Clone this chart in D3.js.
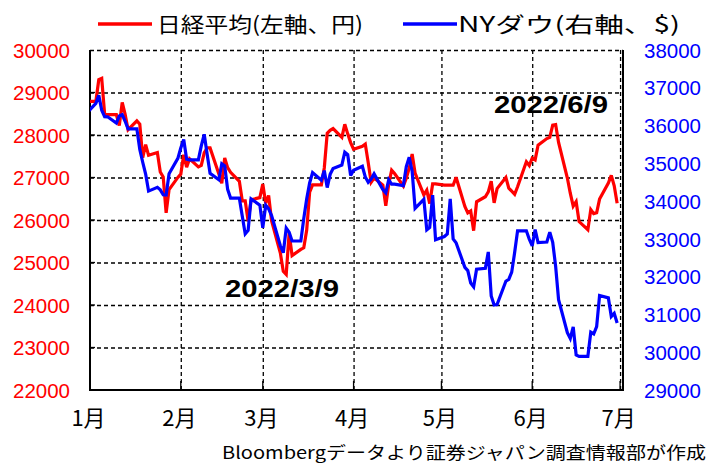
<!DOCTYPE html>
<html><head><meta charset="utf-8">
<script src="https://cdn.jsdelivr.net/npm/d3@7"></script>
<style>body{margin:0;background:#fff}svg{display:block}</style>
</head><body><svg id="c" width="717" height="468"></svg>
<script>
const dates = [
"2021-12-31","2022-01-03","2022-01-04","2022-01-05","2022-01-06","2022-01-07","2022-01-10","2022-01-11","2022-01-12","2022-01-13","2022-01-14",
"2022-01-17","2022-01-18","2022-01-19","2022-01-20","2022-01-21","2022-01-24","2022-01-25","2022-01-26","2022-01-27","2022-01-28","2022-01-31",
"2022-02-01","2022-02-02","2022-02-03","2022-02-04","2022-02-07","2022-02-08","2022-02-09","2022-02-10","2022-02-11","2022-02-14","2022-02-15",
"2022-02-16","2022-02-17","2022-02-18","2022-02-21","2022-02-22","2022-02-23","2022-02-24","2022-02-25","2022-02-28",
"2022-03-01","2022-03-02","2022-03-03","2022-03-04","2022-03-07","2022-03-08","2022-03-09","2022-03-10","2022-03-11","2022-03-14","2022-03-15",
"2022-03-16","2022-03-17","2022-03-18","2022-03-21","2022-03-22","2022-03-23","2022-03-24","2022-03-25","2022-03-28","2022-03-29","2022-03-30","2022-03-31",
"2022-04-01","2022-04-04","2022-04-05","2022-04-06","2022-04-07","2022-04-08","2022-04-11","2022-04-12","2022-04-13","2022-04-14","2022-04-15",
"2022-04-18","2022-04-19","2022-04-20","2022-04-21","2022-04-22","2022-04-25","2022-04-26","2022-04-27","2022-04-28","2022-04-29",
"2022-05-02","2022-05-03","2022-05-04","2022-05-05","2022-05-06","2022-05-09","2022-05-10","2022-05-11","2022-05-12","2022-05-13",
"2022-05-16","2022-05-17","2022-05-18","2022-05-19","2022-05-20","2022-05-23","2022-05-24","2022-05-25","2022-05-26","2022-05-27","2022-05-30","2022-05-31",
"2022-06-01","2022-06-02","2022-06-03","2022-06-06","2022-06-07","2022-06-08","2022-06-09","2022-06-10","2022-06-13","2022-06-14","2022-06-15",
"2022-06-16","2022-06-17","2022-06-20","2022-06-21","2022-06-22","2022-06-23","2022-06-24","2022-06-27","2022-06-28","2022-06-29","2022-06-30"
];
const nikkei = [
28792,28792,29302,29332,28488,28479,28479,28222,28766,28489,28124,
28334,28257,27467,27773,27522,27588,27131,27011,26170,26717,27002,
27078,27534,27241,27440,27249,27285,27580,27696,27696,27080,26865,
27460,27233,27122,26911,26450,26450,25971,26477,26527,
26845,26393,26577,25985,25221,24791,24718,25690,25163,25308,25346,
25762,26653,26827,26827,27224,28040,28110,28150,27944,28252,28027,27821,
27666,27736,27788,27350,26889,26986,26822,26335,26843,27172,27093,
26800,26985,27218,27553,27105,26591,26700,26387,26848,26848,
26819,26819,26819,26819,27004,26319,26167,26214,25749,26428,
26547,26660,26911,26403,26739,27002,26748,26678,26605,26782,27369,27280,
27458,27414,27762,27916,27944,28234,28247,27824,26987,26630,26326,
26431,25963,25771,26246,26150,26171,26492,26871,27049,26805,26393
];
const dow = [
36338,36585,36800,36407,36236,36232,36069,36252,36290,36114,35912,
35912,35368,35029,34715,34265,34365,34298,34168,34161,34725,35132,
35405,35629,35111,35090,35091,35463,35768,35242,34738,34566,34989,
34934,34312,34079,34079,33597,33132,33224,34059,33893,
33295,33891,33795,33615,32817,32633,33286,33174,32944,32945,33544,
34063,34481,34755,34553,34807,34359,34708,34861,34956,35294,35229,34678,
34818,34922,34641,34497,34584,34721,34308,34220,34565,34451,34451,
34412,34911,35161,34793,33811,34049,33240,33302,34161,32977,
33062,33129,34061,32998,32899,32246,32161,31834,31730,32197,
32223,32655,31490,31253,31262,31880,31929,32120,32637,33213,33213,32990,
32813,33248,32900,32916,33180,32911,32273,31393,30517,30365,30669,
29927,29889,29889,30530,30483,30677,31501,31438,30947,31029,30775
];
const leftTicks = [22000,23000,24000,25000,26000,27000,28000,29000,30000];
const rightTicks = [29000,30000,31000,32000,33000,34000,35000,36000,37000,38000];
const monthStarts = ["2022-01-01","2022-02-01","2022-03-01","2022-04-01","2022-05-01","2022-06-01","2022-07-01"];
const monthLabels = ["1月","2月","3月","4月","5月","6月","7月"];
const seriesNames = ["日経平均(左軸、円)","NYダウ(右軸、$)"];
const notes = [{date:"2022-06-09", text:"2022/6/9"},{date:"2022-03-09", text:"2022/3/9"}];
const source = "Bloombergデータより証券ジャパン調査情報部が作成";

const parse = d3.timeParse("%Y-%m-%d");
const svg = d3.select("#c");
const L = 90, R = 623, T = 50, B = 390;
const x = d3.scaleTime().domain([parse("2022-01-01"), parse("2022-07-02")]).range([L, R]);
const yL = d3.scaleLinear().domain([22000, 30000]).range([B, T]);
const yR = d3.scaleLinear().domain([29000, 38000]).range([B, T]);
const RED = "#ff0000", BLUE = "#0000ff";
const numFont = "'Liberation Sans', Arial, sans-serif";
const jpFont = "'Noto Sans CJK JP', sans-serif";

// gridlines
const gy = svg.append("g").attr("transform", `translate(${L},0)`)
  .call(d3.axisLeft(yL).tickValues(leftTicks.slice(1)).tickSize(-(R - L)).tickFormat(""));
const gx = svg.append("g").attr("transform", `translate(0,${B})`)
  .call(d3.axisBottom(x).tickValues(monthStarts.slice(1).map(parse)).tickSize(-(B - T)).tickFormat(""));
[gy, gx].forEach(g => {
  g.select(".domain").remove();
  g.selectAll("line").attr("stroke", "#000").attr("stroke-width", 1.3).attr("stroke-dasharray", "4,3");
});
// inner ticks
svg.append("g").selectAll("line").data(monthStarts.slice(1).map(parse)).join("line")
  .attr("x1", d => x(d)).attr("x2", d => x(d)).attr("y1", B - 9).attr("y2", B)
  .attr("stroke", "#000").attr("stroke-width", 1.3);
svg.append("g").selectAll("line").data(leftTicks.slice(1, -1)).join("line")
  .attr("x1", L).attr("x2", L + 5).attr("y1", d => yL(d)).attr("y2", d => yL(d))
  .attr("stroke", "#000").attr("stroke-width", 1.3);

// frame
svg.append("path").attr("d", `M${L},${T}V${B}H${R}V${T}`).attr("fill", "none")
  .attr("stroke", "#000").attr("stroke-width", 2);

// lines
svg.append("defs").append("clipPath").attr("id", "clip")
  .append("rect").attr("x", L).attr("y", T - 5).attr("width", R - L).attr("height", B - T + 5);
const pd = dates.map(parse);
const lineN = d3.line().x((d, i) => x(pd[i])).y(d => yL(d));
const lineD = d3.line().x((d, i) => x(pd[i])).y(d => yR(d));
const lg = svg.append("g").attr("clip-path", "url(#clip)");
lg.append("path").datum(nikkei).attr("d", lineN).attr("fill", "none").attr("stroke", RED)
  .attr("stroke-width", 3.2).attr("stroke-linejoin", "miter").attr("stroke-miterlimit", 3);
lg.append("path").datum(dow).attr("d", lineD).attr("fill", "none").attr("stroke", BLUE)
  .attr("stroke-width", 3.2).attr("stroke-linejoin", "miter").attr("stroke-miterlimit", 3);

// left axis labels
const al = svg.append("g").attr("transform", `translate(70,0)`)
  .call(d3.axisLeft(yL).tickValues(leftTicks).tickSize(0).tickPadding(0).tickFormat(d3.format("d")));
al.select(".domain").remove();
al.selectAll("text").attr("fill", RED).attr("font-family", numFont).attr("font-size", 20)
  .attr("textLength", 57).attr("lengthAdjust", "spacingAndGlyphs").attr("dy", "0.36em");
const ar = svg.append("g").attr("transform", `translate(644,0)`)
  .call(d3.axisRight(yR).tickValues(rightTicks).tickSize(0).tickPadding(0).tickFormat(d3.format("d")));
ar.select(".domain").remove();
ar.selectAll("text").attr("fill", BLUE).attr("font-family", numFont).attr("font-size", 20)
  .attr("textLength", 57).attr("lengthAdjust", "spacingAndGlyphs").attr("dy", "0.36em");
const ab = svg.append("g").attr("transform", `translate(-2,${B})`)
  .call(d3.axisBottom(x).tickValues(monthStarts.map(parse)).tickSize(0).tickPadding(0)
    .tickFormat((d, i) => monthLabels[i]));
ab.select(".domain").remove();
ab.selectAll("text").attr("fill", "#000").attr("font-family", jpFont).attr("font-size", 22)
  .attr("dy", "0").attr("y", 36);

// legend
const legend = [{c: RED, x: 98, tx: 157, tw: 206}, {c: BLUE, x: 403, tx: 458, tw: 222}];
legend.forEach((l, i) => {
  svg.append("line").attr("x1", l.x).attr("x2", l.x + 54).attr("y1", 24).attr("y2", 24)
    .attr("stroke", l.c).attr("stroke-width", 3.5);
  svg.append("text").attr("x", l.tx).attr("y", 32).text(seriesNames[i])
    .attr("font-family", jpFont).attr("font-size", 21).attr("fill", "#000")
    .attr("textLength", l.tw).attr("lengthAdjust", "spacingAndGlyphs");
});

// annotations
const notePos = [{x: 494, y: 113}, {x: 225, y: 297}];
notes.forEach((n, i) => {
  svg.append("text").attr("x", notePos[i].x).attr("y", notePos[i].y).text(n.text)
    .attr("font-family", numFont).attr("font-size", 23).attr("font-weight", "bold")
    .attr("textLength", 114).attr("lengthAdjust", "spacingAndGlyphs").attr("fill", "#000");
});

// source
svg.append("text").attr("x", 706).attr("y", 459).attr("text-anchor", "end").text(source)
  .attr("font-family", jpFont).attr("font-size", 17).attr("fill", "#000")
  .attr("textLength", 484).attr("lengthAdjust", "spacingAndGlyphs");
</script></body></html>
